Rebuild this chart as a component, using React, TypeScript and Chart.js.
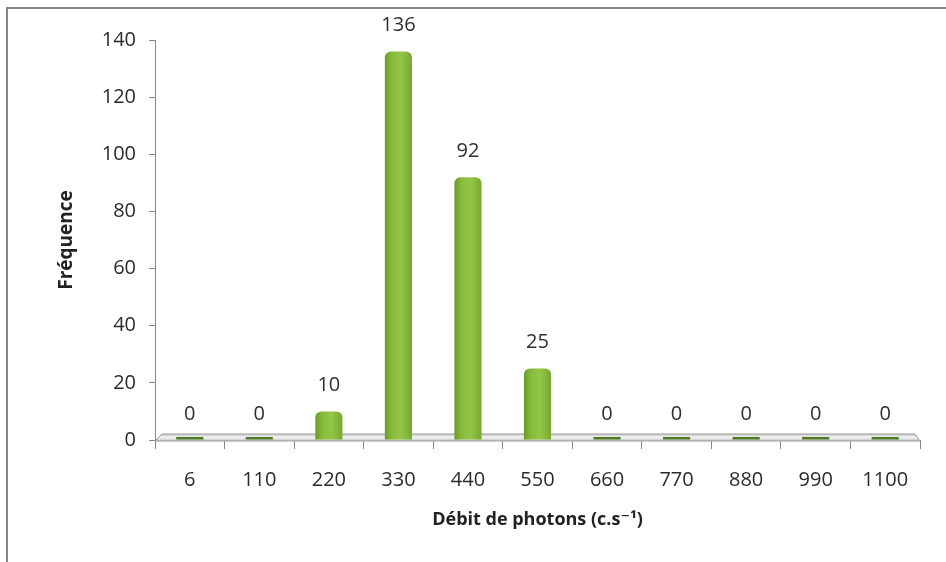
import React, { useEffect, useRef } from "react";
import { Chart, registerables } from "chart.js";

Chart.register(...registerables);

const categories = ["6", "110", "220", "330", "440", "550", "660", "770", "880", "990", "1100"];
const frequencies = [0, 0, 10, 136, 92, 25, 0, 0, 0, 0, 0];
const yTicks = [0, 20, 40, 60, 80, 100, 120, 140];
const yTitle = "Fréquence";
const xTitle = "Débit de photons (c.s⁻¹)";

const FONT = "'Open Sans', 'DejaVu Sans', sans-serif";
const BAR_FRACTION = 0.39;

const framePlugin = {
  id: "frame",
  beforeDraw(chart: any) {
    const ctx = chart.ctx;
    ctx.save();
    ctx.strokeStyle = "#858585";
    ctx.lineWidth = 2;
    ctx.beginPath();
    ctx.moveTo(7, chart.height);
    ctx.lineTo(7, 8);
    ctx.lineTo(chart.width, 8);
    ctx.stroke();
    ctx.restore();
  },
};

const floorPlugin = {
  id: "floor",
  beforeDatasetsDraw(chart: any) {
    const { ctx, chartArea } = chart;
    const { left, right, bottom } = chartArea;
    ctx.save();
    const g = ctx.createLinearGradient(0, bottom - 7, 0, bottom + 2);
    g.addColorStop(0, "#c0c0c0");
    g.addColorStop(0.5, "#f2f2f2");
    g.addColorStop(1, "#b5b5b5");
    ctx.fillStyle = g;
    ctx.strokeStyle = "#9a9a9a";
    ctx.lineWidth = 1;
    ctx.beginPath();
    ctx.moveTo(left, bottom + 1);
    ctx.lineTo(left + 7, bottom - 6);
    ctx.lineTo(right - 5, bottom - 6);
    ctx.lineTo(right, bottom + 1);
    ctx.closePath();
    ctx.fill();
    ctx.stroke();
    ctx.restore();
  },
};

const labelPlugin = {
  id: "valueLabels",
  afterDatasetsDraw(chart: any) {
    const ctx = chart.ctx;
    const meta = chart.getDatasetMeta(0);
    const ys = chart.scales.y;
    ctx.save();
    ctx.font = `20px ${FONT}`;
    ctx.fillStyle = "#2e2e2e";
    ctx.textAlign = "center";
    ctx.textBaseline = "middle";
    meta.data.forEach((el: any, i: number) => {
      const v = frequencies[i];
      const top = ys.getPixelForValue(v);
      ctx.fillText(String(v), el.x, top - 26);
    });
    ctx.restore();
  },
};

export default function App() {
  const ref = useRef<HTMLCanvasElement | null>(null);

  useEffect(() => {
    if (!ref.current) return;
    const chart = new Chart(ref.current, {
      type: "bar",
      data: {
        labels: categories,
        datasets: [
          {
            data: frequencies,
            minBarLength: 3,
            categoryPercentage: 1,
            barPercentage: BAR_FRACTION,
            borderWidth: 0,
            borderRadius: (c: any) => (frequencies[c.dataIndex] === 0 ? 0 : 6),
            borderSkipped: "start",
            backgroundColor: (c: any) => {
              const chart = c.chart;
              const xs = chart.scales && chart.scales.x;
              if (c.type !== "data") return "#8cbf3f";
              if (frequencies[c.dataIndex] === 0) return "#4f7a26";
              if (!xs || !xs.width) return "#8cbf3f";
              const cx = xs.getPixelForValue(c.dataIndex);
              const w = (xs.width / categories.length) * BAR_FRACTION;
              const g = chart.ctx.createLinearGradient(cx - w / 2, 0, cx + w / 2, 0);
              g.addColorStop(0, "#6a9a28");
              g.addColorStop(0.25, "#86bb3a");
              g.addColorStop(0.6, "#94c646");
              g.addColorStop(1, "#74a82f");
              return g;
            },
          } as any,
        ],
      },
      options: {
        animation: false,
        responsive: false,
        layout: { padding: { left: 0, top: 40, right: 26, bottom: 0 } },
        plugins: {
          legend: { display: false },
          tooltip: { enabled: false },
        },
        scales: {
          x: {
            grid: {
              display: true,
              offset: true,
              drawOnChartArea: false,
              drawTicks: true,
              tickLength: 9,
              color: "#878787",
            },
            border: { display: true, color: "#878787", width: 1 },
            ticks: {
              color: "#2b2b2b",
              font: { family: FONT, size: 20 },
              padding: 19,
              maxRotation: 0,
              autoSkip: false,
            },
            title: {
              display: true,
              text: xTitle,
              color: "#222222",
              font: { family: FONT, size: 18, weight: "bold" },
              padding: { top: 0, bottom: 31 },
            },
            afterFit(scale: any) {
              scale.height = 122;
            },
          },
          y: {
            min: yTicks[0],
            max: yTicks[yTicks.length - 1],
            afterBuildTicks(scale: any) {
              scale.ticks = yTicks.map((v) => ({ value: v }));
            },
            grid: {
              display: true,
              drawOnChartArea: false,
              drawTicks: true,
              tickLength: 6,
              color: "#878787",
            },
            border: { display: true, color: "#878787", width: 1 },
            ticks: {
              color: "#2b2b2b",
              font: { family: FONT, size: 20 },
              padding: 13,
            },
            title: {
              display: true,
              text: yTitle,
              color: "#222222",
              font: { family: FONT, size: 19, weight: "bold" },
              padding: { top: 55, bottom: 0 },
            },
            afterFit(scale: any) {
              scale.width = 155;
            },
          },
        },
      },
      plugins: [framePlugin, floorPlugin, labelPlugin],
    } as any);
    return () => chart.destroy();
  }, []);

  return (
    <div style={{ position: "fixed", left: 0, top: 0, width: 946, height: 562, background: "#ffffff" }}>
      <canvas ref={ref} width={946} height={562} style={{ display: "block" }} />
    </div>
  );
}
